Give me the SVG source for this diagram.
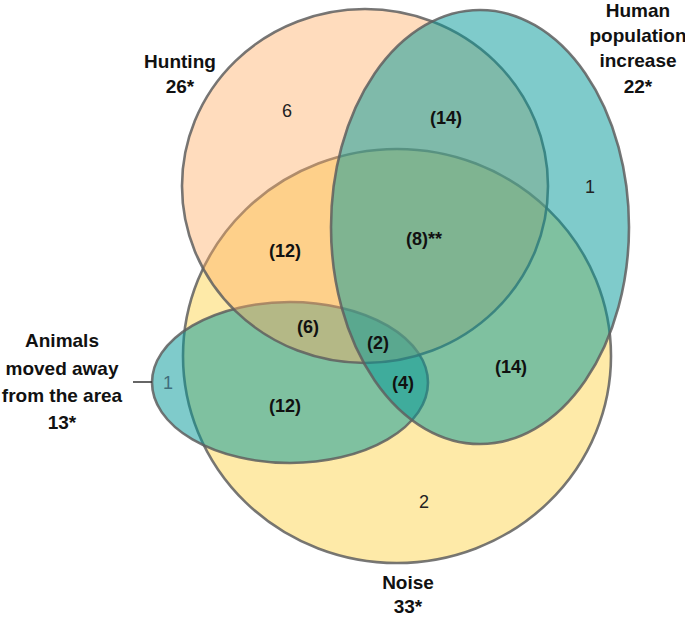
<svg xmlns="http://www.w3.org/2000/svg" width="685" height="617" viewBox="0 0 685 617">
<style>
.set{stroke:#5f5f5f;stroke-opacity:0.85;stroke-width:2.6}
.lbl{font-family:"Liberation Sans",Arial,sans-serif;font-size:19px;font-weight:bold;fill:#111;text-anchor:middle}
.cnt{font-family:"Liberation Sans",Arial,sans-serif;font-size:18px;font-weight:bold;fill:#111;text-anchor:middle}
.num{font-family:"Liberation Sans",Arial,sans-serif;font-size:18px;fill:#222;text-anchor:middle}
</style>
<rect width="685" height="617" fill="#ffffff"/>
<g id="noise">
<ellipse class="set" cx="397" cy="356" rx="214" ry="207" fill="#feeaa8"/>
</g>
<g id="animals">
<ellipse class="set" cx="290" cy="382.5" rx="138" ry="80.5" fill="#009797" fill-opacity="0.5"/>
</g>
<g id="hunting">
<ellipse class="set" cx="365" cy="186" rx="183" ry="177" fill="#ffab62" fill-opacity="0.42"/>
</g>
<g id="human">
<ellipse class="set" cx="480" cy="227" rx="149" ry="217" fill="#009797" fill-opacity="0.5"/>
</g>
<g id="connectors">
<line x1="133" y1="382" x2="152" y2="382" stroke="#333" stroke-width="1.5"/>
</g>
<g id="labels">
<text class="lbl" x="180" y="68">Hunting</text>
<text class="lbl" x="180" y="93">26*</text>
<text class="lbl" x="638" y="17">Human</text>
<text class="lbl" x="638" y="42">population</text>
<text class="lbl" x="638" y="67">increase</text>
<text class="lbl" x="638" y="93">22*</text>
<text class="lbl" x="62" y="347">Animals</text>
<text class="lbl" x="62" y="375">moved away</text>
<text class="lbl" x="62" y="402">from the area</text>
<text class="lbl" x="62" y="429">13*</text>
<text class="lbl" x="408" y="589">Noise</text>
<text class="lbl" x="408" y="613">33*</text>
</g>
<g id="counts">
<text class="num" x="287" y="117">6</text>
<text class="cnt" x="446" y="124">(14)</text>
<text class="num" x="590" y="193">1</text>
<text class="cnt" x="285" y="257">(12)</text>
<text class="cnt" x="424" y="245">(8)**</text>
<text class="cnt" x="308" y="333">(6)</text>
<text class="cnt" x="378" y="349">(2)</text>
<text class="cnt" x="403" y="389">(4)</text>
<text class="cnt" x="511" y="373">(14)</text>
<text class="cnt" x="285" y="412">(12)</text>
<text class="num" x="168" y="389" style="fill:#3f6f7c">1</text>
<text class="num" x="424" y="508">2</text>
</g>
</svg>
